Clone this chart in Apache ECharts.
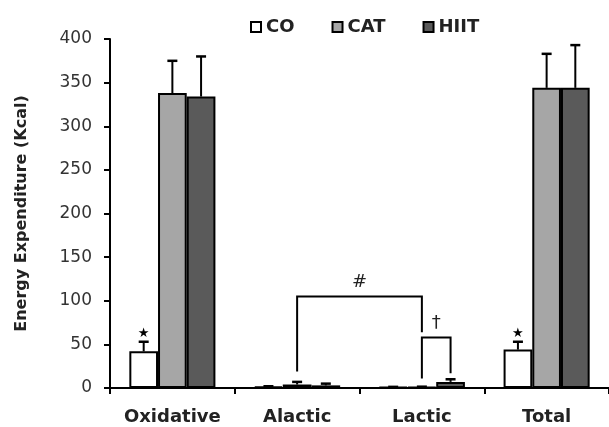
<!DOCTYPE html>
<html>
<head>
<meta charset="utf-8">
<script src="https://cdn.jsdelivr.net/npm/echarts@6/dist/echarts.min.js"></script>
<style>html,body{margin:0;padding:0;background:#fff}#c{width:609px;height:427px}</style>
</head>
<body>
<div id="c"></div>
<script>
// ---- data ----
const categories = ['Oxidative', 'Alactic', 'Lactic', 'Total'];
const seriesNames = ['CO', 'CAT', 'HIIT'];
const coValues = [42, 1.5, 1, 44];
const coErrors = [11, 0.5, 0.3, 9];
const catValues = [338, 4, 1, 344];
const catErrors = [37, 3, 0.5, 39];
const hiitValues = [334, 3, 7, 344];
const hiitErrors = [46, 2, 3, 49];
const yTicks = [0, 50, 100, 150, 200, 250, 300, 350, 400];
// significance star above CO error bar: category indices
const starCategories = [0, 3];
// brackets: polyline points [categoryIndex, barSlot(-1 CO,0 CAT,1 HIIT), value]
const hashBracket = [[1, 0, 19], [1, 0, 105], [2, 0, 105], [2, 0, 64]];
const daggerBracket = [[2, 0, 11], [2, 0, 58], [2, 1, 58], [2, 1, 17]];
const bracketLabels = ['#', '\u2020'];

// ---- style ----
const FONT = 'DejaVu Sans';
const BAR_RATIO = 0.23;
const colors = ['#ffffff', '#a6a6a6', '#5a5a5a'];

function slotX(api, cat, slot) {
  const band = api.size([1, 0])[0];
  return api.coord([cat, 0])[0] + slot * band * BAR_RATIO;
}

function errorSeries(values, errors, slot) {
  return {
    type: 'custom',
    z: 5,
    silent: true,
    data: values.map((v, i) => [i, v, v + errors[i]]),
    renderItem: function (params, api) {
      const x = slotX(api, api.value(0), slot);
      const y0 = api.coord([api.value(0), api.value(1)])[1];
      const y1 = api.coord([api.value(0), api.value(2)])[1];
      return {
        type: 'group',
        children: [
          { type: 'line', shape: { x1: x, y1: y0, x2: x, y2: y1 }, style: { stroke: '#000', lineWidth: 2 } },
          { type: 'line', shape: { x1: x - 5, y1: y1, x2: x + 5, y2: y1 }, style: { stroke: '#000', lineWidth: 2.5 } }
        ]
      };
    }
  };
}

const brackets = [hashBracket, daggerBracket];

const option = {
  animation: false,
  backgroundColor: '#fff',
  textStyle: { fontFamily: FONT },
  grid: { left: 110, right: -9, top: 39, bottom: 39, containLabel: false },
  legend: {
    data: seriesNames,
    left: 245,
    top: 13,
    itemWidth: 10,
    itemHeight: 10,
    itemGap: 37,
    icon: 'rect',
    itemStyle: { borderColor: '#000', borderWidth: 2 },
    textStyle: { fontFamily: FONT, fontSize: 18, fontWeight: 'bold', color: '#222' }
  },
  xAxis: {
    type: 'category',
    data: categories,
    axisLine: { lineStyle: { color: '#000', width: 2 } },
    axisTick: { show: true, interval: 0, length: 6, lineStyle: { color: '#000', width: 2 } },
    axisLabel: { interval: 0, fontFamily: FONT, fontWeight: 'bold', fontSize: 18, color: '#222', margin: 20 }
  },
  yAxis: {
    type: 'value',
    min: yTicks[0],
    max: yTicks[yTicks.length - 1],
    interval: yTicks[1] - yTicks[0],
    name: 'Energy Expenditure (Kcal)',
    nameLocation: 'middle',
    nameGap: 80,
    nameTextStyle: { fontFamily: FONT, fontWeight: 'bold', fontSize: 16, color: '#222' },
    axisLine: { show: true, lineStyle: { color: '#000', width: 2 } },
    axisTick: { show: true, length: 6, lineStyle: { color: '#000', width: 2 } },
    axisLabel: { fontFamily: FONT, fontSize: 17, color: '#333', margin: 18 },
    splitLine: { show: false }
  },
  series: [
    { name: 'CO', type: 'bar', data: coValues, barWidth: (BAR_RATIO * 100) + '%', barGap: '0%',
      itemStyle: { color: colors[0], borderColor: '#000', borderWidth: 2 } },
    { name: 'CAT', type: 'bar', data: catValues, barWidth: (BAR_RATIO * 100) + '%', barGap: '0%',
      itemStyle: { color: colors[1], borderColor: '#000', borderWidth: 2 } },
    { name: 'HIIT', type: 'bar', data: hiitValues, barWidth: (BAR_RATIO * 100) + '%', barGap: '0%',
      itemStyle: { color: colors[2], borderColor: '#000', borderWidth: 2 } },
    errorSeries(coValues, coErrors, -1),
    errorSeries(catValues, catErrors, 0),
    errorSeries(hiitValues, hiitErrors, 1),
    {
      type: 'custom', z: 6, silent: true,
      data: starCategories.map(c => [c, coValues[c] + coErrors[c]]),
      renderItem: function (params, api) {
        const x = slotX(api, api.value(0), -1);
        const y = api.coord([api.value(0), api.value(1)])[1];
        return { type: 'text', x: x, y: y - 8,
          style: { text: '\u2605', fontSize: 13, fontFamily: FONT, fill: '#000', align: 'center', verticalAlign: 'middle' } };
      }
    },
    {
      type: 'custom', z: 6, silent: true,
      data: brackets.map((b, i) => [i]),
      renderItem: function (params, api) {
        const b = brackets[params.dataIndex];
        const pts = b.map(p => [slotX(api, p[0], p[1]), api.coord([p[0], p[2]])[1]]);
        const mx = (pts[1][0] + pts[2][0]) / 2;
        const my = pts[1][1];
        return {
          type: 'group',
          children: [
            { type: 'polyline', shape: { points: pts }, style: { stroke: '#000', lineWidth: 2, fill: null } },
            { type: 'text', x: mx, y: my - 14,
              style: { text: bracketLabels[params.dataIndex], fontSize: 18, fontFamily: FONT, fill: '#222', align: 'center', verticalAlign: 'middle' } }
          ]
        };
      }
    }
  ]
};

const chart = echarts.init(document.getElementById('c'), null, { renderer: 'canvas' });
chart.setOption(option);
</script>
</body>
</html>
